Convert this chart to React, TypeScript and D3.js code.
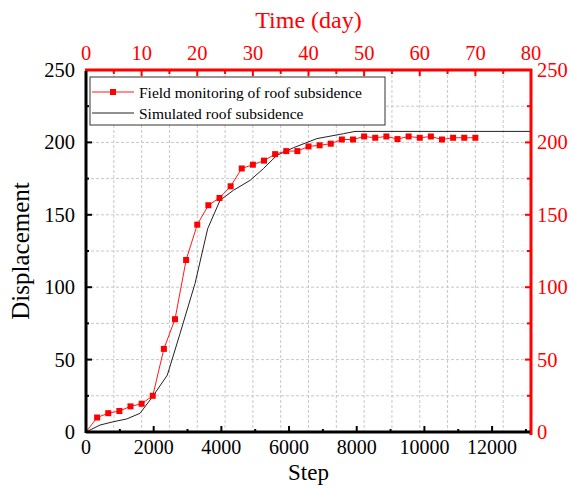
import React from "react";
import * as d3 from "d3";

const timeDays = [0, 2, 4, 6, 8, 10, 12, 14, 16, 18, 20, 22, 24, 26, 28, 30, 32, 34, 36, 38, 40, 42, 44, 46, 48, 50, 52, 54, 56, 58, 60, 62, 64, 66, 68, 70];
const fieldDisp = [0, 10, 13, 14.5, 17.7, 19.5, 25, 57.4, 77.9, 118.8, 143.2, 156.6, 161.6, 169.7, 182, 184.6, 187.4, 191.9, 194, 194, 197.2, 198, 199.1, 202, 202, 204.1, 203.2, 204.1, 202.3, 204.1, 203.2, 204.1, 202, 203.2, 203.2, 203.2];

const simSteps = [0, 414, 807, 1203, 1596, 1980, 2403, 2779, 3222, 3597, 3961, 4354, 4850, 5243, 5637, 6128, 6820, 7606, 7950, 13150];
const simDisp = [0, 4.8, 7.1, 9, 12.9, 24.8, 39.3, 68, 102.6, 140.5, 160, 166.9, 173.8, 181.9, 191, 196.3, 202.6, 206, 207.6, 207.6];

const stepTicks = [0, 2000, 4000, 6000, 8000, 10000, 12000];
const stepMinor = [1000, 3000, 5000, 7000, 9000, 11000, 13000];
const dispTicks = [0, 50, 100, 150, 200, 250];
const dispMinor = [25, 75, 125, 175, 225];
const dayTicks = [0, 10, 20, 30, 40, 50, 60, 70, 80];
const dayMinor = [5, 15, 25, 35, 45, 55, 65, 75];

const legendLabels = ["Field monitoring of roof subsidence", "Simulated roof subsidence"];

const W = 572, H = 490;
const L = 86, R = 531, T = 70, B = 432;
const FONT = "'Liberation Serif', 'Times New Roman', serif";

export default function App() {
  const x = d3.scaleLinear().domain([0, 13150]).range([L, R]);
  const xt = d3.scaleLinear().domain([0, 80]).range([L, R]);
  const y = d3.scaleLinear().domain([0, 250]).range([B, T]);

  const fieldData = timeDays.map((t, i) => ({ t, v: fieldDisp[i] }));
  const simData = simSteps.map((s, i) => ({ s, v: simDisp[i] }));

  const fieldLine = d3.line<{ t: number; v: number }>().x(d => xt(d.t)).y(d => y(d.v));
  const simLine = d3.line<{ s: number; v: number }>().x(d => x(d.s)).y(d => y(d.v));

  const gridX = [...dayTicks, ...dayMinor].filter(d => d > 0 && d < 80);
  const gridY = [...dispTicks, ...dispMinor].filter(d => d > 0 && d < 250);

  return (
    <svg width={W} height={H} style={{ position: "absolute", left: 0, top: 0, background: "#fff" }} fontFamily={FONT}>
      {/* grid */}
      {gridX.map(d => (
        <line key={"gx" + d} x1={xt(d)} x2={xt(d)} y1={T} y2={B} stroke="#c8c8c8" strokeWidth={1} strokeDasharray="3,2" />
      ))}
      {gridY.map(d => (
        <line key={"gy" + d} x1={L} x2={R} y1={y(d)} y2={y(d)} stroke="#c8c8c8" strokeWidth={1} strokeDasharray="3,2" />
      ))}

      {/* simulated */}
      <path d={simLine(simData) || ""} fill="none" stroke="#222" strokeWidth={1} />
      {/* field */}
      <path d={fieldLine(fieldData) || ""} fill="none" stroke="#ff1a1a" strokeWidth={1} />
      {fieldData.filter(d => d.t > 0).map(d => (
        <rect key={"m" + d.t} x={xt(d.t) - 3} y={y(d.v) - 3} width={6} height={6} fill="#ff0000" />
      ))}

      {/* legend */}
      <rect x={90} y={77} width={295} height={48} fill="#fff" stroke="#333" strokeWidth={1} />
      <line x1={92} x2={134} y1={92} y2={92} stroke="#ff1a1a" strokeWidth={1} />
      <rect x={110} y={89} width={6} height={6} fill="#ff0000" />
      <text x={139} y={92} fontSize={15.5} dominantBaseline="central" fill="#000">{legendLabels[0]}</text>
      <line x1={92} x2={134} y1={113} y2={113} stroke="#222" strokeWidth={1} />
      <text x={139} y={113} fontSize={15.5} dominantBaseline="central" fill="#000">{legendLabels[1]}</text>

      {/* bottom axis ticks */}
      {stepTicks.filter(d => d > 0).map(d => (
        <line key={"bt" + d} x1={x(d)} x2={x(d)} y1={B} y2={B - 6} stroke="#000" strokeWidth={2} />
      ))}
      {stepMinor.map(d => (
        <line key={"bm" + d} x1={x(d)} x2={x(d)} y1={B} y2={B - 3} stroke="#000" strokeWidth={2} />
      ))}
      {stepTicks.map(d => (
        <text key={"bl" + d} x={x(d)} y={454} fontSize={20} textAnchor="middle" fill="#000">{d}</text>
      ))}
      <text x={(L + R) / 2} y={480} fontSize={23} textAnchor="middle" fill="#000">Step</text>

      {/* left axis ticks */}
      {dispTicks.filter(d => d > 0 && d < 250).map(d => (
        <line key={"lt" + d} x1={L} x2={L + 6} y1={y(d)} y2={y(d)} stroke="#000" strokeWidth={2} />
      ))}
      {dispMinor.map(d => (
        <line key={"lm" + d} x1={L} x2={L + 3} y1={y(d)} y2={y(d)} stroke="#000" strokeWidth={2} />
      ))}
      {dispTicks.map(d => (
        <text key={"ll" + d} x={75} y={y(d)} fontSize={20.5} textAnchor="end" dominantBaseline="central" fill="#000">{d}</text>
      ))}
      <text transform={`translate(29,${(T + B) / 2}) rotate(-90)`} fontSize={25} textAnchor="middle" fill="#000">Displacement</text>

      {/* top axis (red) */}
      {dayTicks.filter(d => d > 0 && d < 80).map(d => (
        <line key={"tt" + d} x1={xt(d)} x2={xt(d)} y1={T} y2={T + 6} stroke="#ff0000" strokeWidth={2} />
      ))}
      {dayMinor.map(d => (
        <line key={"tm" + d} x1={xt(d)} x2={xt(d)} y1={T} y2={T + 4} stroke="#ff0000" strokeWidth={2} />
      ))}
      {dayTicks.map(d => (
        <text key={"tl" + d} x={xt(d)} y={60} fontSize={20.5} textAnchor="middle" fill="#ff0000">{d}</text>
      ))}
      <text x={(L + R) / 2} y={28} fontSize={24} textAnchor="middle" fill="#ff0000">Time (day)</text>

      {/* right axis (red) */}
      {dispTicks.filter(d => d > 0 && d < 250).map(d => (
        <line key={"rt" + d} x1={R} x2={R - 6} y1={y(d)} y2={y(d)} stroke="#ff0000" strokeWidth={2} />
      ))}
      {dispMinor.map(d => (
        <line key={"rm" + d} x1={R} x2={R - 4} y1={y(d)} y2={y(d)} stroke="#ff0000" strokeWidth={2} />
      ))}
      {dispTicks.map(d => (
        <text key={"rl" + d} x={537} y={y(d)} fontSize={20.5} textAnchor="start" dominantBaseline="central" fill="#ff0000">{d}</text>
      ))}

      {/* axis lines */}
      <line x1={L - 1} x2={R + 1} y1={T} y2={T} stroke="#ff0000" strokeWidth={3} />
      <line x1={R} x2={R} y1={T - 1} y2={B + 3} stroke="#ff0000" strokeWidth={3} />
      <line x1={L} x2={R - 1} y1={B} y2={B} stroke="#000" strokeWidth={3} />
      <line x1={L} x2={L} y1={T + 1} y2={B + 1} stroke="#000" strokeWidth={3} />
    </svg>
  );
}
